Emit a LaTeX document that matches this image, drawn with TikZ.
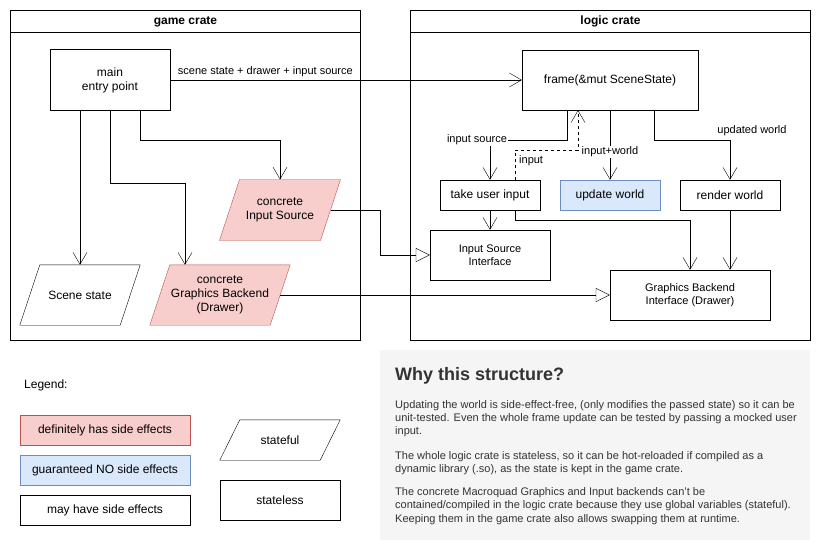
\documentclass[tikz,border=0pt]{standalone}
\usepackage{fontspec}
\setmainfont{Liberation Sans}
\usetikzlibrary{arrows.meta,calc,backgrounds}
\definecolor{redfill}{HTML}{F8CECC}
\definecolor{redline}{HTML}{B85450}
\definecolor{bluefill}{HTML}{DAE8FC}
\definecolor{blueline}{HTML}{6C8EBF}
\definecolor{grayfill}{HTML}{F5F5F5}
\definecolor{txtgray}{HTML}{333333}
\newcommand\pgramshape[3]{%
  \begin{pgfonlayer}{background}
  \filldraw[fill=#2,draw=#3] ([xshift=20pt]#1.north west) -- (#1.north east) -- ([xshift=-20pt]#1.south east) -- (#1.south west) -- cycle;
  \end{pgfonlayer}}
\begin{document}
\begin{tikzpicture}[x=1pt,y=-1pt,line width=1pt,
  every node/.style={font=\fontsize{12}{14}\selectfont, align=center, inner sep=0pt},
  box/.style={draw, rectangle},
  small/.style={font=\fontsize{11}{13}\selectfont},
  lbl/.style={font=\fontsize{11}{13}\selectfont, fill=white, inner sep=1pt},
  redbox/.style={box, fill=redfill, draw=redline},
  bluebox/.style={box, fill=bluefill, draw=blueline},
  crate/.style={draw, rectangle, anchor=north west},
  opn/.style={-{Straight Barb[length=12pt,width=14pt]}},
  tri/.style={-{Triangle[open,length=14pt,width=14pt]}},
  para/.style={font=\fontsize{11}{13.3}\selectfont, align=left, anchor=north west, text=txtgray}
]
\useasboundingbox (0,0) rectangle (821,551);

% containers
\node[crate, minimum width=350, minimum height=330] (game) at (10,10) {};
\draw ([yshift=-23pt]game.north west) -- ([yshift=-23pt]game.north east);
\node[font=\bfseries\fontsize{12}{14}\selectfont] (gametitle) at ($(game.north)+(0,11.5)$) {game crate};
\node[crate, minimum width=400, minimum height=330] (logic) at (410,10) {};
\draw ([yshift=-23pt]logic.north west) -- ([yshift=-23pt]logic.north east);
\node[font=\bfseries\fontsize{12}{14}\selectfont] (logictitle) at ($(logic.north)+(0,11.5)$) {logic crate};

% game crate nodes
\node[box, minimum width=120, minimum height=60] (main) at (110,80) {main\\entry point};
\node[minimum width=120, minimum height=60] (cis) at (280,210) {concrete\\Input Source};
\pgramshape{cis}{redfill}{redline}
\node[minimum width=120, minimum height=60] (scene) at (80,295) {Scene state};
\pgramshape{scene}{white}{black}
\node[minimum width=140, minimum height=60] (cgb) at (220,295) {concrete\\Graphics Backend\\(Drawer)};
\pgramshape{cgb}{redfill}{redline}

% logic crate nodes
\node[box, minimum width=176, minimum height=60] (frame) at (610,80) {frame(\&mut SceneState)};
\node[box, minimum width=100, minimum height=30] (take) at (490,195) {take user input};
\node[bluebox, minimum width=100, minimum height=30] (update) at (610,195) {update world};
\node[box, minimum width=100, minimum height=30] (render) at (730,195) {render world};
\node[box, small, minimum width=120, minimum height=50] (isi) at (490,255) {Input Source\\Interface};
\node[box, small, minimum width=160, minimum height=50] (gbi) at (690,295) {Graphics Backend\\Interface (Drawer)};

% connectors
\draw[opn] (main.east) -- node[pos=0.27, above=3pt, small] (lblmain) {scene state + drawer + input source} (frame.west);
\draw[opn] ([xshift=-30pt]main.south) -- (scene.north);
\draw[opn] (main.south) -- ++(0,73) -| ([xshift=-35pt]cgb.north);
\draw[opn] ([xshift=30pt]main.south) -- ++(0,30) -| (cis.north);
\draw[tri] ([xshift=-10pt]cis.east) -- ++(50,0) |- (isi.west);
\draw[tri] ([xshift=-10pt]cgb.east) -- (cgb.east -| gbi.west);

\draw[opn] ([xshift=-43pt]frame.south) |- (take.north |- 0,140) -- (take.north);
\node[lbl] (lblis) at (477,140) {input source};
\draw[opn, dashed] ([xshift=25pt]take.north) |- ([xshift=-32pt]frame.south |- 0,150) -- ([xshift=-32pt]frame.south);
\node[small, anchor=west] (lblin) at (519,161) {input};
\draw[opn] (frame.south) -- node[lbl, pos=0.6] (lbliw) {input+world} (update.north);
\draw[opn] ([xshift=44pt]frame.south) |- (render.north |- 0,140) -- (render.north);
\node[small] (lbluw) at (752,131) {updated world};

\draw[opn] (take.south) -- (isi.north);
\draw[opn] ([xshift=25pt]take.south) |- (gbi.north |- 0,220) -- (gbi.north);
\draw[opn] (render.south) -- (render.south |- gbi.north);

% legend
\node[anchor=west] (legend) at (24,385) {Legend:};
\node[redbox, minimum width=170, minimum height=30] (l1) at (105,430) {definitely has side effects};
\node[bluebox, minimum width=170, minimum height=30] (l2) at (105,470) {guaranteed NO side effects};
\node[box, minimum width=170, minimum height=30] (l3) at (105,510) {may have side effects};
\node[minimum width=120, minimum height=40] (l4) at (280,440) {stateful};
\pgramshape{l4}{white}{black}
\node[box, minimum width=120, minimum height=40] (l5) at (280,500) {stateless};

% explanation
\fill[grayfill] (380,350) rectangle (810,540);
\node[anchor=west, text=txtgray, font=\bfseries\fontsize{18}{21}\selectfont] (why) at (395,376) {Why this structure?};
\node[para] (p1) at (395,400) {Updating the world is side-effect-free, (only modifies the passed state) so it can be\\unit-tested. Even the whole frame update can be tested by passing a mocked user\\input.};
\node[para] (p2) at (395,451.5) {The whole logic crate is stateless, so it can be hot-reloaded if compiled as a\\dynamic library (.so), as the state is kept in the game crate.};
\node[para] (p3) at (395,487.5) {The concrete Macroquad Graphics and Input backends can't be\\contained/compiled in the logic crate because they use global variables (stateful).\\Keeping them in the game crate also allows swapping them at runtime.};
\end{tikzpicture}
\end{document}
